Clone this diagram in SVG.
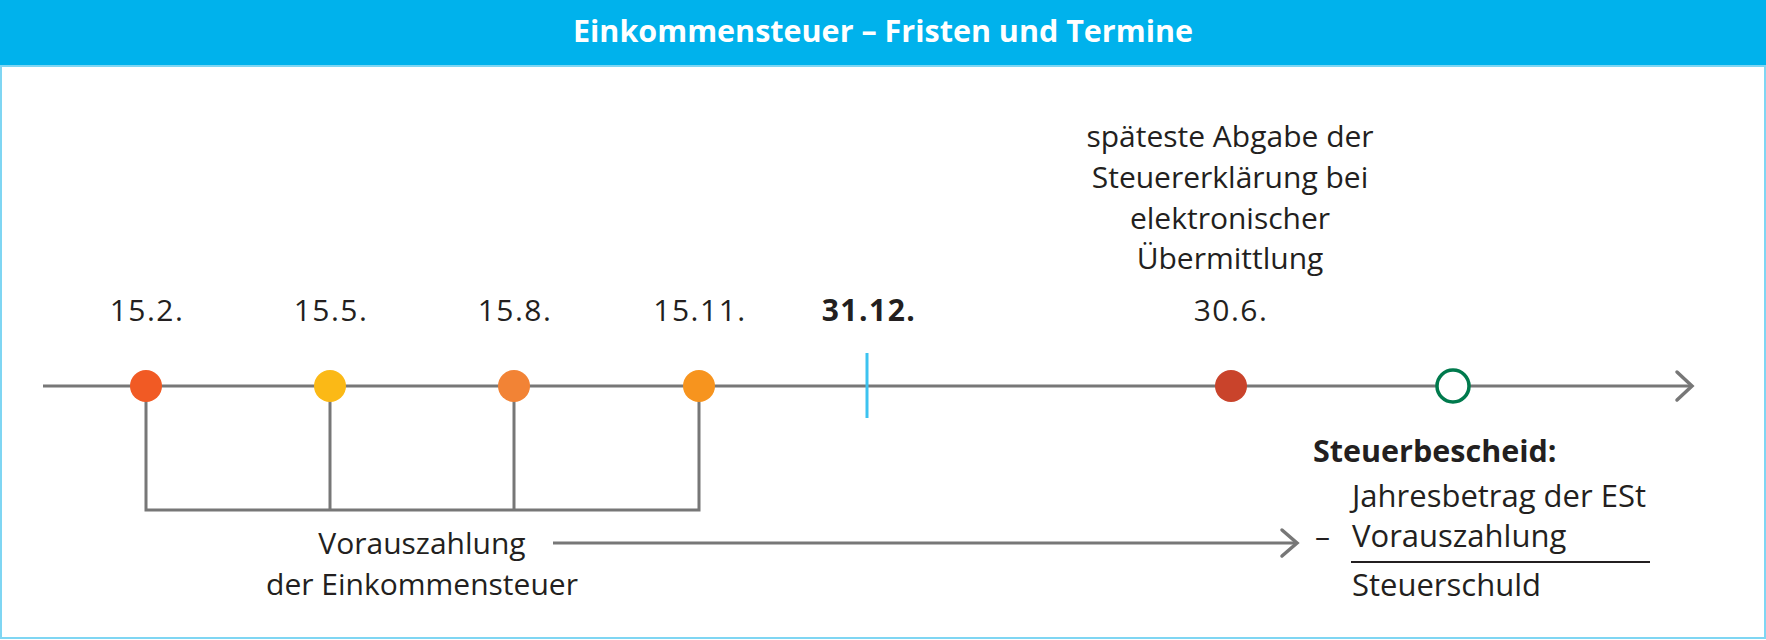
<svg xmlns="http://www.w3.org/2000/svg" width="1766" height="640" viewBox="0 0 1766 640">
<style>
.t{font-family:"Open Sans","Noto Sans",sans-serif;font-size:30px;fill:#231f20;text-anchor:middle}
.d{letter-spacing:1.5px}
.b{font-weight:bold}
.l{text-anchor:start}
.ln{stroke:#777;stroke-width:3;fill:none}
.ah{stroke:#777;stroke-width:3.5;fill:none;stroke-linecap:round;stroke-linejoin:miter}
</style>
<rect x="0" y="0" width="1766" height="640" fill="#fff"/>
<rect x="1" y="40" width="1764" height="598" fill="none" stroke="#7fd6f3" stroke-width="2"/>
<rect x="0" y="0" width="1766" height="65" fill="#00b2ec"/>
<rect x="0" y="65" width="1766" height="2" fill="#7fd6f3"/>
<text x="883" y="42" class="t b" style="fill:#fff;font-size:30.5px">Einkommensteuer – Fristen und Termine</text>

<g id="connectors">
<line x1="43" y1="386" x2="1692" y2="386" class="ln"/>
<polyline points="1677,372 1692,386 1677,400" class="ah"/>
<polyline points="146,386 146,510 699,510 699,386" class="ln"/>
<line x1="330" y1="386" x2="330" y2="510" class="ln"/>
<line x1="514" y1="386" x2="514" y2="510" class="ln"/>
<line x1="553" y1="543" x2="1297" y2="543" class="ln"/>
<polyline points="1282,530 1297,543 1282,556" class="ah"/>
</g>

<g id="n-15-2"><circle cx="146" cy="386" r="16" fill="#f15a24"/><text x="147" y="321" class="t d">15.2.</text></g>
<g id="n-15-5"><circle cx="330" cy="386" r="16" fill="#fbb916"/><text x="331" y="321" class="t d">15.5.</text></g>
<g id="n-15-8"><circle cx="514" cy="386" r="16" fill="#f28335"/><text x="515" y="321" class="t d">15.8.</text></g>
<g id="n-15-11"><circle cx="699" cy="386" r="16" fill="#f7941e"/><text x="700" y="321" class="t d">15.11.</text></g>
<g id="n-31-12"><line x1="867" y1="353" x2="867" y2="418" stroke="#3cc3f0" stroke-width="3"/><text x="869" y="321" class="t b d">31.12.</text></g>
<g id="n-30-6"><circle cx="1231" cy="386" r="16" fill="#c9432b"/>
<text x="1231" y="321" class="t d">30.6.</text>
<text class="t"><tspan x="1230" y="147">späteste Abgabe der</tspan><tspan x="1230" y="188">Steuererklärung bei</tspan><tspan x="1230" y="229">elektronischer</tspan><tspan x="1230" y="269">Übermittlung</tspan></text>
</g>
<g id="n-bescheid"><circle cx="1453" cy="386" r="16" fill="#fff" stroke="#007a4d" stroke-width="3.5"/>
<text x="1313" y="462" class="t b l" style="font-size:30.5px">Steuerbescheid:</text>
<text x="1352" y="507" class="t l" style="font-size:31px">Jahresbetrag der ESt</text>
<text x="1315" y="547" class="t l">–</text>
<text x="1352" y="547" class="t l" style="font-size:31px">Vorauszahlung</text>
<line x1="1351" y1="562" x2="1650" y2="562" stroke="#231f20" stroke-width="2"/>
<text x="1352" y="596" class="t l" style="font-size:31px">Steuerschuld</text>
</g>
<g id="n-vorauszahlung"><text class="t"><tspan x="422" y="554">Vorauszahlung</tspan><tspan x="422" y="595">der Einkommensteuer</tspan></text></g>
</svg>
